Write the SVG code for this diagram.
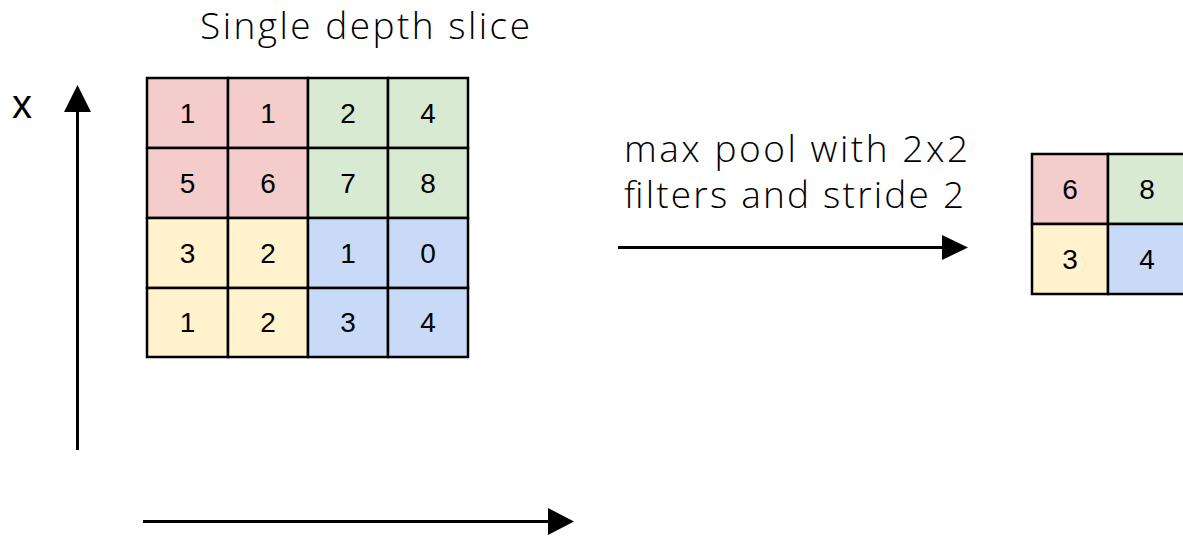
<svg xmlns="http://www.w3.org/2000/svg" width="1183" height="536" viewBox="0 0 1183 536">
  <defs>
    <style>
      .cell { stroke: #000; stroke-width: 2.5; }
      .r { fill: #f4cccc; }
      .g { fill: #d9ead3; }
      .y { fill: #fff2cc; }
      .b { fill: #c9daf8; }
      .num { font-family: "Liberation Sans", Arial, sans-serif; font-size: 28px; fill: #000; text-anchor: middle; }
      .title { font-family: "Open Sans", "Liberation Sans", sans-serif; font-weight: 300; font-size: 37px; fill: #000; }
      .axis { stroke: #000; stroke-width: 3; fill: none; }
    </style>
  </defs>
  <rect width="1183" height="536" fill="#fff"/>

  <!-- caption above the input slice -->
  <text id="title" class="title" x="200" y="39" textLength="330">Single depth slice</text>

  <!-- axis label -->
  <text id="x-label" x="12" y="118" font-family="Liberation Sans, Arial, sans-serif" font-size="40" fill="#000">x</text>

  <!-- 4x4 input slice -->
  <g id="input-grid">
    <rect class="cell r" x="147" y="78" width="81" height="70"/>
    <rect class="cell r" x="228" y="78" width="80" height="70"/>
    <rect class="cell g" x="308" y="78" width="80" height="70"/>
    <rect class="cell g" x="388" y="78" width="80" height="70"/>
    <rect class="cell r" x="147" y="148" width="81" height="70"/>
    <rect class="cell r" x="228" y="148" width="80" height="70"/>
    <rect class="cell g" x="308" y="148" width="80" height="70"/>
    <rect class="cell g" x="388" y="148" width="80" height="70"/>
    <rect class="cell y" x="147" y="218" width="81" height="70"/>
    <rect class="cell y" x="228" y="218" width="80" height="70"/>
    <rect class="cell b" x="308" y="218" width="80" height="70"/>
    <rect class="cell b" x="388" y="218" width="80" height="70"/>
    <rect class="cell y" x="147" y="288" width="81" height="69"/>
    <rect class="cell y" x="228" y="288" width="80" height="69"/>
    <rect class="cell b" x="308" y="288" width="80" height="69"/>
    <rect class="cell b" x="388" y="288" width="80" height="69"/>

    <text class="num" x="187.5" y="123">1</text>
    <text class="num" x="268" y="123">1</text>
    <text class="num" x="348" y="123">2</text>
    <text class="num" x="428" y="123">4</text>
    <text class="num" x="187.5" y="193">5</text>
    <text class="num" x="268" y="193">6</text>
    <text class="num" x="348" y="193">7</text>
    <text class="num" x="428" y="193">8</text>
    <text class="num" x="187.5" y="263">3</text>
    <text class="num" x="268" y="263">2</text>
    <text class="num" x="348" y="263">1</text>
    <text class="num" x="428" y="263">0</text>
    <text class="num" x="187.5" y="332">1</text>
    <text class="num" x="268" y="332">2</text>
    <text class="num" x="348" y="332">3</text>
    <text class="num" x="428" y="332">4</text>
  </g>

  <!-- operation label -->
  <g id="pool-label">
    <text class="title" x="624" y="162" font-size="36" textLength="344">max pool with 2x2</text>
    <text class="title" x="624" y="208" font-size="36" textLength="340">filters and stride 2</text>
  </g>

  <!-- 2x2 pooled output -->
  <g id="output-grid">
    <rect class="cell r" x="1032" y="154" width="76" height="70"/>
    <rect class="cell g" x="1108" y="154" width="78" height="70"/>
    <rect class="cell y" x="1032" y="224" width="76" height="70"/>
    <rect class="cell b" x="1108" y="224" width="78" height="70"/>
    <text class="num" x="1070" y="199">6</text>
    <text class="num" x="1147" y="199">8</text>
    <text class="num" x="1070" y="269">3</text>
    <text class="num" x="1147" y="269">4</text>
  </g>

  <!-- axes and pooling arrow -->
  <g id="connectors">
    <line class="axis" x1="77.5" y1="450" x2="77.5" y2="110"/>
    <polygon points="77.5,85 64,112 91,112" fill="#000"/>
    <line class="axis" x1="143" y1="521.5" x2="550" y2="521.5"/>
    <polygon points="574,521.5 548,508 548,535" fill="#000"/>
    <line class="axis" x1="618" y1="247.5" x2="944" y2="247.5"/>
    <polygon points="968,247.5 942,235 942,260" fill="#000"/>
  </g>
</svg>
